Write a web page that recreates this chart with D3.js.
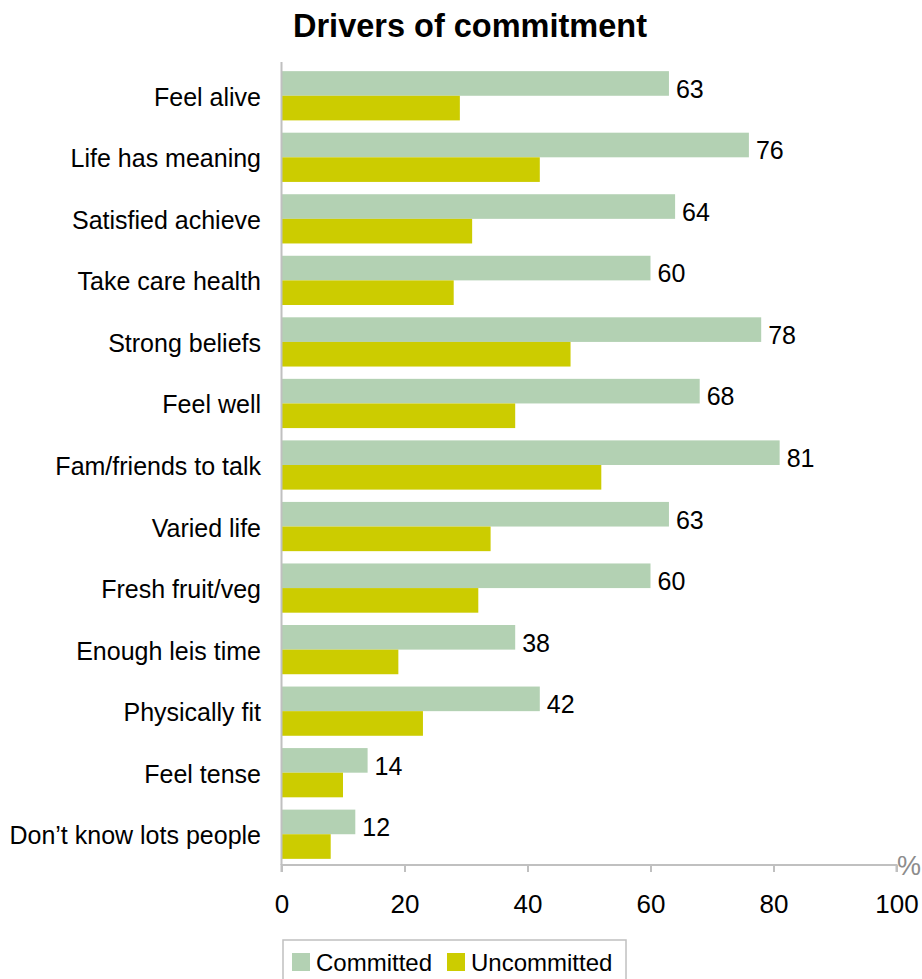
<!DOCTYPE html>
<html>
<head>
<meta charset="utf-8">
<script src="https://cdn.jsdelivr.net/npm/d3@7"></script>
<style>
  body { margin: 0; background: #fff; }
  svg { font-family: "Liberation Sans", Arial, sans-serif; }
</style>
</head>
<body>
<div id="chart"></div>
<script>
// Data
const categories = [
  'Feel alive', 'Life has meaning', 'Satisfied achieve', 'Take care health',
  'Strong beliefs', 'Feel well', 'Fam/friends to talk', 'Varied life',
  'Fresh fruit/veg', 'Enough leis time', 'Physically fit', 'Feel tense',
  'Don\u2019t know lots people'
];
const committed = [63, 76, 64, 60, 78, 68, 81, 63, 60, 38, 42, 14, 12];
const uncommitted = [29, 42, 31, 28, 47, 38, 52, 34, 32, 19, 23, 10, 8];
const seriesNames = ['Committed', 'Uncommitted'];
const seriesColors = ['#b3d1b3', '#cccc00'];
const xTicks = [0, 20, 40, 60, 80, 100];

const width = 922;
const height = 979;

const svg = d3.select('#chart')
  .append('svg')
  .attr('width', width)
  .attr('height', height);

// Title
svg.append('text')
  .attr('x', 470)
  .attr('y', 37)
  .attr('text-anchor', 'middle')
  .attr('font-size', 32.5)
  .attr('font-weight', 'bold')
  .text('Drivers of commitment');

const x = d3.scaleLinear()
  .domain([0, 100])
  .range([281.5, 896.5]);

const y = d3.scaleBand()
  .domain(categories)
  .range([65, 865])
  .paddingInner(0.2)
  .paddingOuter(0.1);

const barH = y.bandwidth() / 2;

const rows = categories.map((c, i) => ({
  name: c,
  values: [committed[i], uncommitted[i]]
}));

// Bars
const rowG = svg.append('g')
  .selectAll('g')
  .data(rows)
  .join('g')
  .attr('transform', d => `translate(0,${y(d.name)})`);

rowG.selectAll('rect')
  .data(d => d.values.map((v, k) => ({ v, k })))
  .join('rect')
  .attr('x', x(0))
  .attr('y', d => d.k * barH)
  .attr('width', d => x(d.v) - x(0))
  .attr('height', barH)
  .attr('fill', d => seriesColors[d.k]);

// Value labels for committed
rowG.append('text')
  .attr('x', d => x(d.values[0]) + 7)
  .attr('y', barH + 2)
  .attr('font-size', 25)
  .text(d => d.values[0]);

// Category labels
svg.append('g')
  .selectAll('text')
  .data(categories)
  .join('text')
  .attr('x', 261)
  .attr('y', d => y(d) + y.bandwidth() / 2 + 1)
  .attr('dy', '0.36em')
  .attr('text-anchor', 'end')
  .attr('font-size', 25)
  .text(d => d);

// Vertical axis line
svg.append('line')
  .attr('x1', x(0)).attr('x2', x(0))
  .attr('y1', 62).attr('y2', 865)
  .attr('stroke', '#c0c0c0')
  .attr('stroke-width', 2);

// X axis
const xAxis = svg.append('g')
  .attr('transform', 'translate(0,865)')
  .call(d3.axisBottom(x).tickValues(xTicks).tickSize(7).tickPadding(23));

xAxis.select('.domain')
  .attr('stroke', '#c0c0c0')
  .attr('stroke-width', 2)
  .attr('d', `M${x(0)},7V0H${x(100)}V7`);

xAxis.selectAll('.tick line')
  .attr('stroke', '#c0c0c0')
  .attr('stroke-width', 2);

xAxis.selectAll('.tick text')
  .attr('fill', '#000')
  .attr('font-size', 26)
  .attr('font-family', '"Liberation Sans", Arial, sans-serif');

svg.append('text')
  .attr('x', 897)
  .attr('y', 875)
  .attr('font-size', 27)
  .attr('fill', '#8c8c8c')
  .text('%');

// Legend
const legend = svg.append('g');
legend.append('rect')
  .attr('x', 283)
  .attr('y', 940)
  .attr('width', 343)
  .attr('height', 60)
  .attr('fill', '#fff')
  .attr('stroke', '#c0c0c0')
  .attr('stroke-width', 1.5);

const legendX = [292, 447];
seriesNames.forEach((name, k) => {
  legend.append('rect')
    .attr('x', legendX[k])
    .attr('y', 953)
    .attr('width', 18)
    .attr('height', 18)
    .attr('fill', seriesColors[k]);
  legend.append('text')
    .attr('x', legendX[k] + 24)
    .attr('y', 971)
    .attr('font-size', 24)
    .text(name);
});
</script>
</body>
</html>
